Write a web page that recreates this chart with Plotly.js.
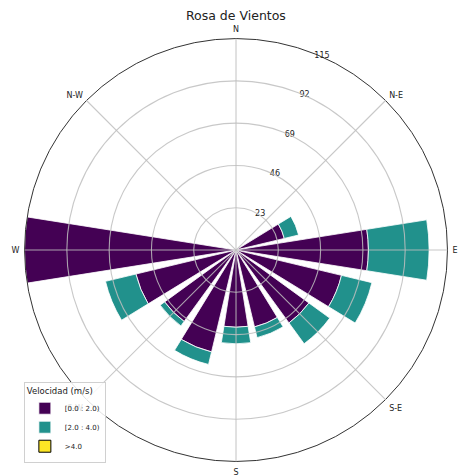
<!DOCTYPE html>
<html>
<head>
<meta charset="utf-8">
<script src="https://cdn.plot.ly/plotly-3.0.1.min.js"></script>
<style>html,body{margin:0;padding:0;background:#fff;}#chart{width:459px;height:476px;}</style>
</head>
<body>
<div id="chart"></div>
<script>
// 16 wind sectors (compass degrees, clockwise from North)
const sectors = ["N","NNE","NE","ENE","E","ESE","SE","SSE","S","SSW","SW","WSW","W","WNW","NW","NNW"];
const directions = [0,22.5,45,67.5,90,112.5,135,157.5,180,202.5,225,247.5,270,292.5,315,337.5];
// counts per speed bin
const speed0to2 = [0,0,0,27,72,59,49,43,42,57,48,56,115,0,0,0];
const speed2to4 = [0,0,0,8,33,17,14,6,9,7,3,17,0,0,0,0];
const speedOver4 = [0,0,0,0,0,0,0,0,0,0,0,0,0,0,0,0];
const binNames = ["[0.0 : 2.0)","[2.0 : 4.0)",">4.0"];
const binColors = ["#440154","#21918c","#fde725"];
// axis labels
const dirTickVals = [0,45,90,135,180,225,270,315];
const dirTickText = ["N","N-E","E","S-E","S","S-W","W","N-W"];
const radialTicks = [23,46,69,92,115];
const rMax = 115;

const W = 459, H = 476;
const font = "DejaVu Sans, sans-serif";
const gridCol = "rgba(190,190,190,0.85)";
const dom = {x: [0.0534, 0.975], y: [0.0305, 0.919]};

const series = [speed0to2, speed2to4, speedOver4];
const traces = series.map((vals, i) => ({
  type: "barpolar",
  r: vals,
  theta: directions,
  width: 18,
  name: binNames[i],
  marker: {color: binColors[i], line: {color: i === 2 ? "#000" : "#ffffff", width: i === 2 ? 1 : 0.8}},
  hoverinfo: "skip"
}));

// grid drawn above the bars (as matplotlib does), derived from the polar domain and tick arrays
const Rpx = Math.min((dom.x[1]-dom.x[0])*W, (dom.y[1]-dom.y[0])*H) / 2;
const cx = (dom.x[0]+dom.x[1])/2, cy = (dom.y[0]+dom.y[1])/2;
const shapes = [];
radialTicks.filter(v => v < rMax).forEach(v => {
  const rx = Rpx*v/rMax/W, ry = Rpx*v/rMax/H;
  shapes.push({type: "circle", xref: "paper", yref: "paper", layer: "above",
    x0: cx-rx, x1: cx+rx, y0: cy-ry, y1: cy+ry, line: {color: gridCol, width: 1.1}});
});
dirTickVals.forEach(d => {
  const a = d*Math.PI/180;
  shapes.push({type: "line", xref: "paper", yref: "paper", layer: "above",
    x0: cx, y0: cy, x1: cx + Rpx*Math.sin(a)/W, y1: cy + Rpx*Math.cos(a)/H,
    line: {color: gridCol, width: 1.1}});
});

const layout = {
  width: W, height: H,
  margin: {l: 0, r: 0, t: 0, b: 0},
  paper_bgcolor: "#fff",
  showlegend: true,
  shapes: shapes,
  title: {text: "Rosa de Vientos", x: 0.514, xanchor: "center", y: 0.967, yanchor: "middle",
          font: {family: font, size: 12.5, color: "#222"}},
  legend: {
    title: {text: "Velocidad (m/s)", font: {family: font, size: 8.5, color: "#222"}},
    font: {family: font, size: 7, color: "#222"},
    x: 0.052, y: 0.028, xanchor: "left", yanchor: "bottom",
    bgcolor: "rgba(255,255,255,0.85)", bordercolor: "#d0d0d0", borderwidth: 1,
    itemwidth: 30, tracegroupgap: 0
  },
  polar: {
    domain: dom,
    bgcolor: "#fff",
    barmode: "stack",
    angularaxis: {
      rotation: 90, direction: "clockwise",
      tickmode: "array", tickvals: dirTickVals, ticktext: dirTickText,
      ticks: "outside", ticklen: 3, tickcolor: "rgba(0,0,0,0)",
      showline: true, linecolor: "#333", linewidth: 1, showgrid: false,
      tickfont: {family: font, size: 8, color: "#222"}
    },
    radialaxis: {
      range: [0, rMax], tickmode: "array", tickvals: radialTicks,
      angle: 69.5, tickangle: 69.5, showline: false, ticks: "", showgrid: false,
      tickfont: {family: font, size: 8, color: "#222"}
    }
  }
};
Plotly.newPlot("chart", traces, layout, {staticPlot: true});
</script>
</body>
</html>
